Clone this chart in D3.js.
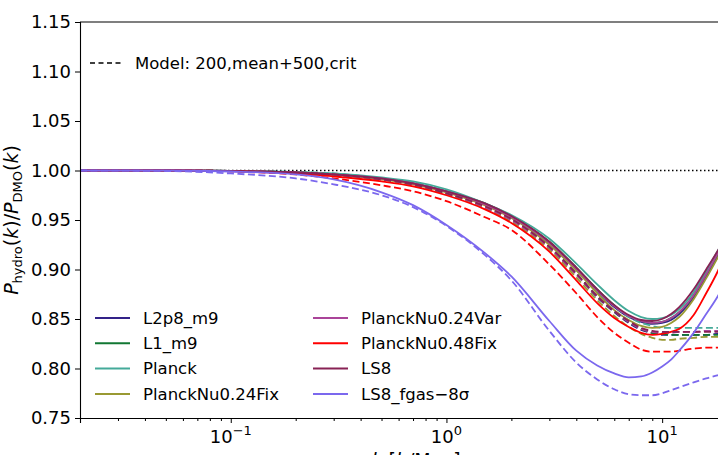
<!DOCTYPE html>
<html lang="en">
<head>
  <meta charset="UTF-8">
  <title>Hydro / DMO power spectrum ratio</title>
  <script src="https://d3js.org/d3.v7.min.js"></script>
</head>
<body style="margin: 0; overflow: hidden; background: #fff;">

<script>
  //Wavenumbers k [h/Mpc] shared by every curve
  const kVals = [0.02, 0.05, 0.1, 0.2, 0.3, 0.5, 0.7, 1.0, 1.5, 2.0, 3.0, 4.0, 5.0, 6.0, 7.0, 8.0, 9.0, 10, 11, 12, 14, 16, 18, 20, 22];

  const simNames = ['L2p8_m9', 'L1_m9', 'Planck', 'PlanckNu0.24Fix', 'PlanckNu0.24Var', 'PlanckNu0.48Fix', 'LS8', 'LS8_fgas\u22128\u03c3'];
  const simColors = ['#332288', '#117733', '#44AA99', '#999933', '#AA4499', '#ff0000', '#882255', '#7B68EE'];

  //Simulation ratios (solid lines)
  const simL2p8 = [1.0, 1.0, 0.9995, 0.998, 0.996, 0.992, 0.987, 0.979, 0.966, 0.953, 0.926, 0.900, 0.878, 0.862, 0.852, 0.847, 0.845, 0.846, 0.849, 0.855, 0.872, 0.893, 0.912, 0.930, 0.946];
  const simL1 = [1.0, 1.0, 0.9995, 0.998, 0.996, 0.992, 0.987, 0.979, 0.967, 0.954, 0.928, 0.902, 0.880, 0.864, 0.853, 0.848, 0.846, 0.847, 0.851, 0.857, 0.874, 0.895, 0.914, 0.932, 0.948];
  const simPlanck = [1.0, 1.0, 0.9996, 0.9985, 0.997, 0.993, 0.989, 0.981, 0.967, 0.955, 0.931, 0.906, 0.885, 0.869, 0.858, 0.852, 0.850, 0.851, 0.854, 0.860, 0.877, 0.898, 0.918, 0.936, 0.952];
  const simNu024Fix = [1.0, 1.0, 0.9995, 0.998, 0.996, 0.991, 0.986, 0.978, 0.965, 0.952, 0.925, 0.899, 0.876, 0.859, 0.849, 0.843, 0.841, 0.842, 0.846, 0.852, 0.870, 0.891, 0.911, 0.929, 0.945];
  const simNu024Var = [1.0, 1.0, 0.9995, 0.998, 0.996, 0.992, 0.987, 0.979, 0.966, 0.953, 0.927, 0.901, 0.879, 0.863, 0.853, 0.848, 0.846, 0.847, 0.851, 0.857, 0.874, 0.895, 0.915, 0.933, 0.949];
  const simNu048Fix = [1.0, 1.0, 0.9993, 0.997, 0.994, 0.989, 0.984, 0.975, 0.961, 0.947, 0.918, 0.889, 0.866, 0.851, 0.842, 0.836, 0.834, 0.835, 0.837, 0.840, 0.854, 0.876, 0.897, 0.920, 0.940];
  const simLS8 = [1.0, 1.0, 0.9995, 0.998, 0.996, 0.992, 0.987, 0.979, 0.967, 0.954, 0.928, 0.902, 0.880, 0.864, 0.854, 0.849, 0.848, 0.850, 0.855, 0.862, 0.880, 0.900, 0.918, 0.935, 0.950];
  const simFgas = [1.0, 1.0, 0.999, 0.996, 0.991, 0.978, 0.965, 0.945, 0.917, 0.893, 0.848, 0.818, 0.803, 0.795, 0.791, 0.792, 0.796, 0.802, 0.809, 0.818, 0.836, 0.855, 0.872, 0.890, 0.905];

  //Model ratios (dashed lines)
  const modL2p8 = [1.0, 1.0, 0.9995, 0.998, 0.996, 0.991, 0.986, 0.977, 0.963, 0.950, 0.922, 0.895, 0.872, 0.857, 0.846, 0.839, 0.836, 0.834, 0.834, 0.834, 0.834, 0.834, 0.835, 0.835, 0.835];
  const modL1 = [1.0, 1.0, 0.9995, 0.998, 0.996, 0.991, 0.986, 0.977, 0.964, 0.951, 0.923, 0.896, 0.873, 0.858, 0.847, 0.840, 0.836, 0.835, 0.834, 0.834, 0.834, 0.834, 0.834, 0.834, 0.834];
  const modPlanck = [1.0, 1.0, 0.9996, 0.9985, 0.997, 0.992, 0.988, 0.979, 0.966, 0.953, 0.926, 0.900, 0.878, 0.863, 0.852, 0.846, 0.843, 0.841, 0.841, 0.841, 0.841, 0.841, 0.841, 0.841, 0.841];
  const modNu024Fix = [1.0, 1.0, 0.9995, 0.998, 0.996, 0.991, 0.985, 0.976, 0.962, 0.948, 0.920, 0.892, 0.869, 0.853, 0.842, 0.835, 0.831, 0.829, 0.829, 0.830, 0.831, 0.832, 0.832, 0.832, 0.832];
  const modNu024Var = [1.0, 1.0, 0.9995, 0.998, 0.996, 0.991, 0.986, 0.977, 0.963, 0.950, 0.922, 0.895, 0.873, 0.858, 0.847, 0.840, 0.837, 0.836, 0.836, 0.837, 0.837, 0.838, 0.838, 0.838, 0.838];
  const modNu048Fix = [1.0, 1.0, 0.999, 0.996, 0.992, 0.985, 0.979, 0.969, 0.953, 0.940, 0.905, 0.876, 0.852, 0.836, 0.826, 0.819, 0.817, 0.817, 0.817, 0.818, 0.820, 0.821, 0.821, 0.822, 0.822];
  const modLS8 = [1.0, 1.0, 0.9995, 0.998, 0.996, 0.991, 0.986, 0.977, 0.964, 0.951, 0.923, 0.896, 0.873, 0.858, 0.848, 0.841, 0.838, 0.837, 0.837, 0.837, 0.837, 0.837, 0.837, 0.837, 0.837];
  const modFgas = [1.0, 0.9995, 0.997, 0.992, 0.986, 0.975, 0.963, 0.944, 0.915, 0.889, 0.838, 0.806, 0.789, 0.779, 0.774, 0.773, 0.773, 0.775, 0.778, 0.781, 0.786, 0.790, 0.793, 0.796, 0.798];

  const simSeries = [simL2p8, simL1, simPlanck, simNu024Fix, simNu024Var, simNu048Fix, simLS8, simFgas];
  const modSeries = [modL2p8, modL1, modPlanck, modNu024Fix, modNu024Var, modNu048Fix, modLS8, modFgas];

  const yTicks = [0.75, 0.80, 0.85, 0.90, 0.95, 1.00, 1.05, 1.10, 1.15];
  const xMajor = [0.1, 1, 10];
  const xMinor = [];
  [0.01, 0.1, 1, 10].forEach(d => { for (let m = 2; m <= 9; m++) xMinor.push(d * m); });

  const font = 'DejaVu Sans, sans-serif';
  const width = 718, height = 455;
  const mLeft = 80, mTop = 22, mBottom = 418, mRight = 736; //right edge falls outside the window

  const svg = d3.select('body').append('svg')
    .attr('width', width)
    .attr('height', height)
    .style('font-family', font);

  const x = d3.scaleLog().domain([0.02, 22]).range([mLeft, mRight]);
  const y = d3.scaleLinear().domain([0.75, 1.15]).range([mBottom, mTop]);

  //Clip the curves to the axes box
  svg.append('clipPath').attr('id', 'plotClip')
    .append('rect')
    .attr('x', mLeft).attr('y', mTop)
    .attr('width', mRight - mLeft).attr('height', mBottom - mTop);

  const plot = svg.append('g').attr('clip-path', 'url(#plotClip)');

  //Reference line at 1
  plot.append('line')
    .attr('x1', mLeft).attr('x2', mRight)
    .attr('y1', y(1)).attr('y2', y(1))
    .attr('stroke', '#000')
    .attr('stroke-width', 1.5)
    .attr('stroke-dasharray', '1.5,2.5');

  const line = d3.line()
    .x(d => x(d[0]))
    .y(d => y(d[1]))
    .curve(d3.curveMonotoneX);

  //Draw each simulation and its model
  simSeries.forEach((vals, i) => {
    plot.append('path')
      .attr('d', line(kVals.map((k, j) => [k, vals[j]])))
      .attr('fill', 'none')
      .attr('stroke', simColors[i])
      .attr('stroke-width', 1.8);

    plot.append('path')
      .attr('d', line(kVals.map((k, j) => [k, modSeries[i][j]])))
      .attr('fill', 'none')
      .attr('stroke', simColors[i])
      .attr('stroke-width', 1.8)
      .attr('stroke-dasharray', '7,3.5');
  });

  //Axes
  svg.append('g')
    .attr('transform', `translate(0,${mBottom})`)
    .call(d3.axisBottom(x).tickValues(xMajor).tickSize(5).tickFormat(''))
    .call(g => g.select('.domain').attr('stroke-width', 1.1));

  svg.append('g')
    .attr('transform', `translate(0,${mBottom})`)
    .call(d3.axisBottom(x).tickValues(xMinor.filter(v => v >= 0.02 && v <= 22)).tickSize(3).tickFormat(''))
    .call(g => g.select('.domain').remove());

  //Power-of-ten labels
  const xLab = svg.append('g').selectAll('text')
    .data(xMajor)
    .join('text')
    .attr('x', d => x(d))
    .attr('y', 443)
    .attr('text-anchor', 'middle')
    .attr('font-size', 18);
  xLab.append('tspan').text('10');
  xLab.append('tspan')
    .attr('dy', -8)
    .attr('font-size', 13)
    .text(d => Math.log10(d) < 0 ? '\u2212' + Math.abs(Math.log10(d)) : Math.log10(d));

  svg.append('g')
    .attr('transform', `translate(${mLeft},0)`)
    .call(d3.axisLeft(y).tickValues(yTicks).tickSize(5).tickPadding(4).tickFormat(d3.format('.2f')))
    .call(g => g.select('.domain').attr('stroke-width', 1.1))
    .call(g => g.selectAll('text').attr('font-size', 18).attr('font-family', font).attr('fill', '#000'));

  //Top spine
  svg.append('line')
    .attr('x1', mLeft).attr('x2', mRight)
    .attr('y1', mTop).attr('y2', mTop)
    .attr('stroke', '#000').attr('stroke-width', 1.1);

  //Axis labels
  const xTitle = svg.append('text')
    .attr('x', 416).attr('y', 467)
    .attr('text-anchor', 'middle')
    .attr('font-size', 19);
  xTitle.append('tspan').attr('font-style', 'italic').text('k');
  xTitle.append('tspan').text(' [');
  xTitle.append('tspan').attr('font-style', 'italic').text('h');
  xTitle.append('tspan').text('/Mpc]');

  const yTitle = svg.append('text')
    .attr('transform', `translate(18,${(mTop + mBottom) / 2}) rotate(-90)`)
    .attr('text-anchor', 'middle')
    .attr('font-size', 19);
  yTitle.append('tspan').attr('font-style', 'italic').text('P');
  yTitle.append('tspan').attr('font-size', 13).attr('dy', 4).text('hydro');
  yTitle.append('tspan').attr('dy', -4).text('(');
  yTitle.append('tspan').attr('font-style', 'italic').text('k');
  yTitle.append('tspan').text(')/');
  yTitle.append('tspan').attr('font-style', 'italic').text('P');
  yTitle.append('tspan').attr('font-size', 13).attr('dy', 4).text('DMO');
  yTitle.append('tspan').attr('dy', -4).text('(');
  yTitle.append('tspan').attr('font-style', 'italic').text('k');
  yTitle.append('tspan').text(')');

  //Model legend
  svg.append('line')
    .attr('x1', 90).attr('x2', 123)
    .attr('y1', 63).attr('y2', 63)
    .attr('stroke', '#000').attr('stroke-width', 1.5)
    .attr('stroke-dasharray', '5,3.5');
  svg.append('text')
    .attr('x', 135).attr('y', 63)
    .attr('dy', '0.35em')
    .attr('font-size', 16.5)
    .text('Model: 200,mean+500,crit');

  //Simulation legend, two columns of four
  const legend = svg.append('g').selectAll('g')
    .data(simNames)
    .join('g')
    .attr('transform', (d, i) => `translate(${i < 4 ? 95 : 313},${318 + (i % 4) * 25.3})`);

  legend.append('line')
    .attr('x1', 0).attr('x2', 35)
    .attr('stroke', (d, i) => simColors[i])
    .attr('stroke-width', 2);

  legend.append('text')
    .attr('x', 48)
    .attr('dy', '0.35em')
    .attr('font-size', 16.5)
    .text(d => d);
</script>

</body>
</html>
